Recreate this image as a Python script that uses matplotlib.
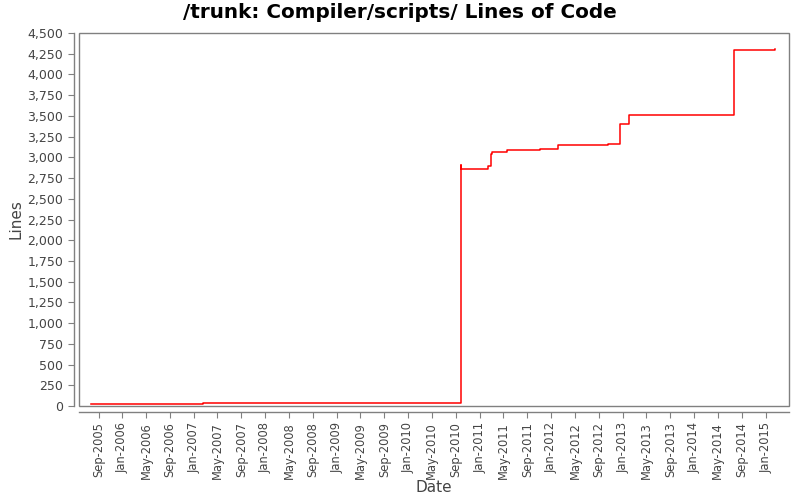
import matplotlib
matplotlib.use("Agg")
import matplotlib.pyplot as plt
import matplotlib.dates as mdates
from matplotlib.patches import Rectangle
from matplotlib.ticker import FuncFormatter, MultipleLocator
import numpy as np

# Lines of code over time (step series)
dates = [
    "2005-07-26", "2007-02-15", "2010-09-27", "2010-09-27", "2011-02-14",
    "2011-03-01", "2011-03-06", "2011-05-19", "2011-05-24", "2011-11-06",
    "2012-02-06", "2012-10-18", "2012-12-19", "2013-02-01", "2013-02-03",
    "2014-07-24", "2015-02-15",
]
lines = [
    20, 35, 2910, 2860, 2897,
    3046, 3062, 3086, 3091, 3103,
    3143, 3163, 3406, 3505, 3516,
    4292, 4304,
]

title = "/trunk: Compiler/scripts/ Lines of Code"
x_label = "Date"
y_label = "Lines"

x = np.array(dates, dtype="datetime64[D]")
gray = "#808080"
text_col = "#444444"

fig = plt.figure(figsize=(8, 5), dpi=100)
ax = fig.add_axes([0.099, 0.188, 0.887, 0.746])

ax.plot(x, lines, drawstyle="steps-post", color="#ff0000", linewidth=1.1)

ax.set_xlim(np.datetime64("2005-05-25"), np.datetime64("2015-04-29"))
ax.set_ylim(0, 4500)

# frame around the plot area
for s in ax.spines.values():
    s.set_visible(False)
ax.add_patch(Rectangle((0, 0), 1, 1, transform=ax.transAxes, fill=False,
                       edgecolor=gray, linewidth=1.0, clip_on=False))

# detached axis lines
for side in ("left", "bottom"):
    ax.spines[side].set_visible(True)
    ax.spines[side].set_position(("outward", 4))
    ax.spines[side].set_color(gray)
    ax.spines[side].set_linewidth(1.0)

ax.yaxis.set_major_locator(MultipleLocator(250))
ax.yaxis.set_major_formatter(FuncFormatter(lambda v, p: f"{int(v):,}"))
ax.xaxis.set_major_locator(mdates.MonthLocator(bymonth=[1, 5, 9]))
ax.xaxis.set_major_formatter(mdates.DateFormatter("%b-%Y"))

ax.tick_params(axis="both", colors=gray, labelcolor=text_col,
               length=4, width=0.8, direction="out")
ax.tick_params(axis="y", labelsize=9)
ax.tick_params(axis="x", labelsize=8.3)
plt.setp(ax.get_xticklabels(), rotation=90)

ax.set_xlabel(x_label, fontsize=11, color=text_col, labelpad=1)
ax.set_ylabel(y_label, fontsize=11, color=text_col, labelpad=3)
fig.suptitle(title, fontsize=14.4, fontweight="bold", y=0.995)

fig.savefig("out.png", dpi=100)
